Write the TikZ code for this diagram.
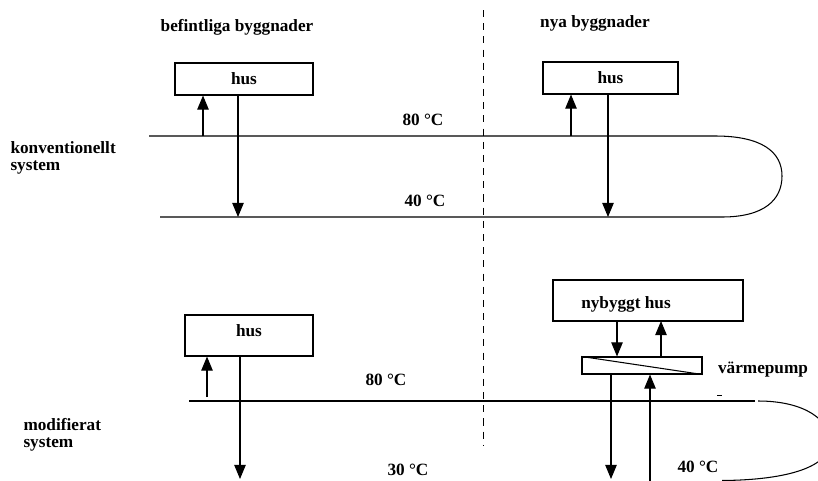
\documentclass[tikz,border=0pt]{standalone}
\usepackage{fontspec}
\setmainfont{Liberation Serif}
\usetikzlibrary{arrows.meta}

\tikzset{
  hbox/.style n args={2}{draw, inner sep=0pt, minimum width=#1, minimum height=#2},
  lbl/.style={inner sep=0pt},
  pipe/.style={line width=0.6pt},
  divider/.style={line width=0.5pt, dash pattern=on 4pt off 3.5pt}
}

\begin{document}
\begin{tikzpicture}[x=0.02cm, y=-0.02cm, line width=0.6pt, >={Triangle[length=8pt,width=6.5pt]},
    font=\fontsize{9.8}{9.8}\selectfont\bfseries]
  \clip (0,0) rectangle (818,480);

  % headings and side labels
  \node[lbl] (hbef) at (237,27) {befintliga byggnader};
  \node[lbl] (hnya) at (595,23) {nya byggnader};
  \node[lbl, anchor=west, align=left] (lkonv) at (10,158) {konventionellt\\system};
  \node[lbl, anchor=west, align=left] (lmod) at (23,435) {modifierat\\system};

  % dividing line
  \draw[divider] (483,10) -- (483,445);

  % conventional system
  \node[hbox={2.76cm}{0.64cm}] (husA) at (244,79) {hus};
  \node[hbox={2.7cm}{0.64cm}] (husB) at (610.5,78) {hus};
  \draw[pipe] (149,136) -- (715,136) .. controls (762,136) and (782,152) .. (782,176)
    .. controls (782,200) and (764,217) .. (722,217) -- (160,217);
  \node[lbl] (t80a) at (423,120) {80 °C};
  \node[lbl] (t40a) at (425,201) {40 °C};
  \coordinate (a1) at (203,136);
  \coordinate (a2) at (238,217);
  \coordinate (b1) at (571,136);
  \coordinate (b2) at (608,217);
  \draw[->] (a1) -- (a1 |- husA.south);
  \draw[->] (a2 |- husA.south) -- (a2);
  \draw[->] (b1) -- (b1 |- husB.south);
  \draw[->] (b2 |- husB.south) -- (b2);

  % modified system
  \node[hbox={2.56cm}{0.82cm}] (husC) at (249,335.5) {};
  \node[lbl] at (249,331) {hus};
  \node[hbox={3.8cm}{0.82cm}] (nyhus) at (648,300.5) {};
  \node[lbl] at (626,304) {nybyggt hus};
  \node[hbox={2.4cm}{0.34cm}] (vp) at (642,365.5) {};
  \draw (vp.north west) -- (vp.south east);
  \node[lbl] (lvp) at (763,370) {värmepump};
  \draw[pipe] (189,401) -- (755,401);
  \draw[pipe] (758,401) .. controls (805,401) and (830,420) .. (830,442)
    .. controls (830,466) and (790,480) .. (722,480.5);
  \draw[line width=0.4pt] (717,395) -- (722,395);
  \node[lbl] (t80b) at (386,380) {80 °C};
  \node[lbl] (t30b) at (408,470) {30 °C};
  \node[lbl] (t40b) at (698,467) {40 °C};
  \coordinate (c1) at (207,397);
  \coordinate (c2) at (240,479);
  \coordinate (d1) at (617,321);
  \coordinate (d2) at (661,321);
  \coordinate (e1) at (611,479);
  \coordinate (e2) at (650,482);
  \draw[->] (c1) -- (c1 |- husC.south);
  \draw[->] (c2 |- husC.south) -- (c2);
  \draw[->] (d1) -- (d1 |- vp.north);
  \draw[->] (d2 |- vp.north) -- (d2);
  \draw[->] (e1 |- vp.south) -- (e1);
  \draw[->] (e2) -- (e2 |- vp.south);
\end{tikzpicture}
\end{document}
